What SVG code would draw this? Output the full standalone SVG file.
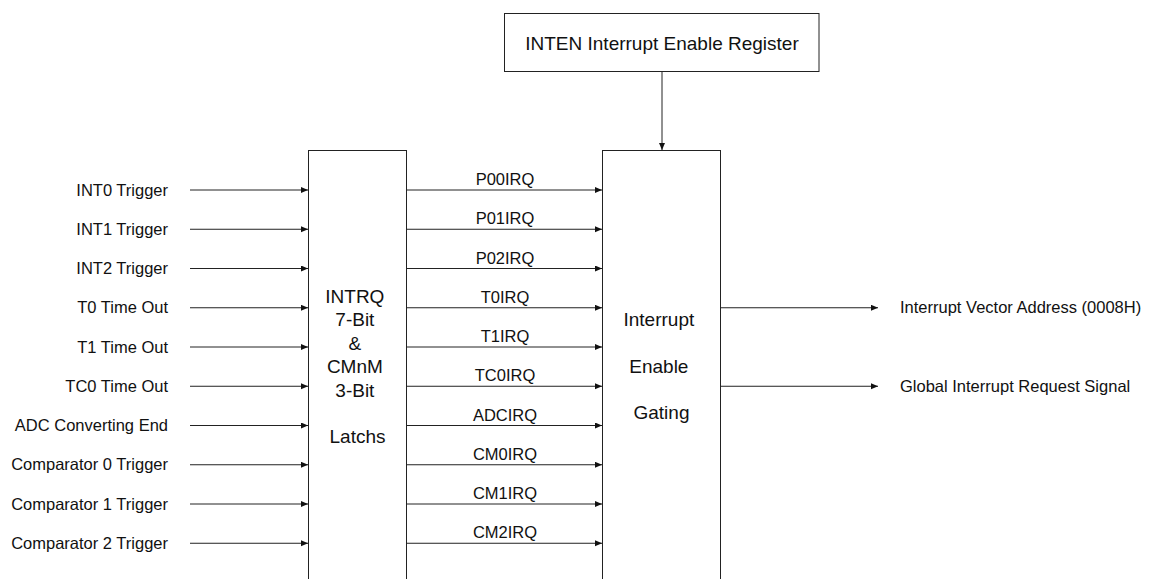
<svg xmlns="http://www.w3.org/2000/svg" width="1150" height="579" viewBox="0 0 1150 579">
  <style>
    text { font-family: "Liberation Sans", Arial, sans-serif; fill: #111; }
    .sig { font-size: 16.5px; }
    .big { font-size: 19px; }
    .box { fill: #fff; stroke: #222; stroke-width: 1; }
    .wire { stroke: #222; stroke-width: 1; fill: none; marker-end: url(#arrow); }
  </style>
  <defs>
    <marker id="arrow" markerUnits="userSpaceOnUse" markerWidth="8" markerHeight="7" refX="7" refY="3" orient="auto">
      <path d="M0,0 L7,3 L0,6 z" fill="#111"/>
    </marker>
  </defs>

  <rect width="1150" height="579" fill="#fff"/>

  <!-- Interrupt enable register -->
  <g id="inten">
    <rect class="box" x="504.5" y="13.5" width="314.5" height="58"/>
    <text class="big" x="662" y="49.5" text-anchor="middle">INTEN Interrupt Enable Register</text>
  </g>

  <!-- Request latch block -->
  <g id="latches">
    <rect class="box" x="308.5" y="150.5" width="98" height="440"/>
    <text class="big" text-anchor="middle">
      <tspan x="357.5" y="302.5">INTRQ</tspan>
      <tspan x="357.5" y="326">7-Bit</tspan>
      <tspan x="357.5" y="349.5">&amp;</tspan>
      <tspan x="357.5" y="373">CMnM</tspan>
      <tspan x="357.5" y="396.5">3-Bit</tspan>
      <tspan x="357.5" y="443">Latchs</tspan>
    </text>
  </g>

  <!-- Enable gating block -->
  <g id="gating">
    <rect class="box" x="602.5" y="150.5" width="118" height="440"/>
    <text class="big" text-anchor="middle">
      <tspan x="661.5" y="326">Interrupt</tspan>
      <tspan x="661.5" y="372.5">Enable</tspan>
      <tspan x="661.5" y="419">Gating</tspan>
    </text>
  </g>

  <!-- Interrupt sources -->
  <g id="sources" class="sig" text-anchor="end">
    <text x="168" y="195.5">INT0 Trigger</text>
    <text x="168" y="234.75">INT1 Trigger</text>
    <text x="168" y="274">INT2 Trigger</text>
    <text x="168" y="313.25">T0 Time Out</text>
    <text x="168" y="352.5">T1 Time Out</text>
    <text x="168" y="391.75">TC0 Time Out</text>
    <text x="168" y="431">ADC Converting End</text>
    <text x="168" y="470.25">Comparator 0 Trigger</text>
    <text x="168" y="509.5">Comparator 1 Trigger</text>
    <text x="168" y="548.75">Comparator 2 Trigger</text>
  </g>

  <!-- Latched request names -->
  <g id="requests" class="sig" text-anchor="middle">
    <text x="505" y="185">P00IRQ</text>
    <text x="505" y="224.25">P01IRQ</text>
    <text x="505" y="263.5">P02IRQ</text>
    <text x="505" y="302.75">T0IRQ</text>
    <text x="505" y="342">T1IRQ</text>
    <text x="505" y="381.25">TC0IRQ</text>
    <text x="505" y="420.5">ADCIRQ</text>
    <text x="505" y="459.75">CM0IRQ</text>
    <text x="505" y="499">CM1IRQ</text>
    <text x="505" y="538.25">CM2IRQ</text>
  </g>

  <!-- Outputs -->
  <g id="outputs" class="sig">
    <text x="900" y="313.25">Interrupt Vector Address (0008H)</text>
    <text x="900" y="391.75">Global Interrupt Request Signal</text>
  </g>

  <!-- Connectors -->
  <g id="connectors">
    <line class="wire" x1="662" y1="72" x2="662" y2="150"/>

    <line class="wire" x1="190" y1="190" x2="308" y2="190"/>
    <line class="wire" x1="190" y1="229.25" x2="308" y2="229.25"/>
    <line class="wire" x1="190" y1="268.5" x2="308" y2="268.5"/>
    <line class="wire" x1="190" y1="307.75" x2="308" y2="307.75"/>
    <line class="wire" x1="190" y1="347" x2="308" y2="347"/>
    <line class="wire" x1="190" y1="386.25" x2="308" y2="386.25"/>
    <line class="wire" x1="190" y1="425.5" x2="308" y2="425.5"/>
    <line class="wire" x1="190" y1="464.75" x2="308" y2="464.75"/>
    <line class="wire" x1="190" y1="504" x2="308" y2="504"/>
    <line class="wire" x1="190" y1="543.25" x2="308" y2="543.25"/>

    <line class="wire" x1="406.5" y1="190" x2="602" y2="190"/>
    <line class="wire" x1="406.5" y1="229.25" x2="602" y2="229.25"/>
    <line class="wire" x1="406.5" y1="268.5" x2="602" y2="268.5"/>
    <line class="wire" x1="406.5" y1="307.75" x2="602" y2="307.75"/>
    <line class="wire" x1="406.5" y1="347" x2="602" y2="347"/>
    <line class="wire" x1="406.5" y1="386.25" x2="602" y2="386.25"/>
    <line class="wire" x1="406.5" y1="425.5" x2="602" y2="425.5"/>
    <line class="wire" x1="406.5" y1="464.75" x2="602" y2="464.75"/>
    <line class="wire" x1="406.5" y1="504" x2="602" y2="504"/>
    <line class="wire" x1="406.5" y1="543.25" x2="602" y2="543.25"/>

    <line class="wire" x1="720.5" y1="307.75" x2="878" y2="307.75"/>
    <line class="wire" x1="720.5" y1="386.25" x2="878" y2="386.25"/>
  </g>
</svg>
